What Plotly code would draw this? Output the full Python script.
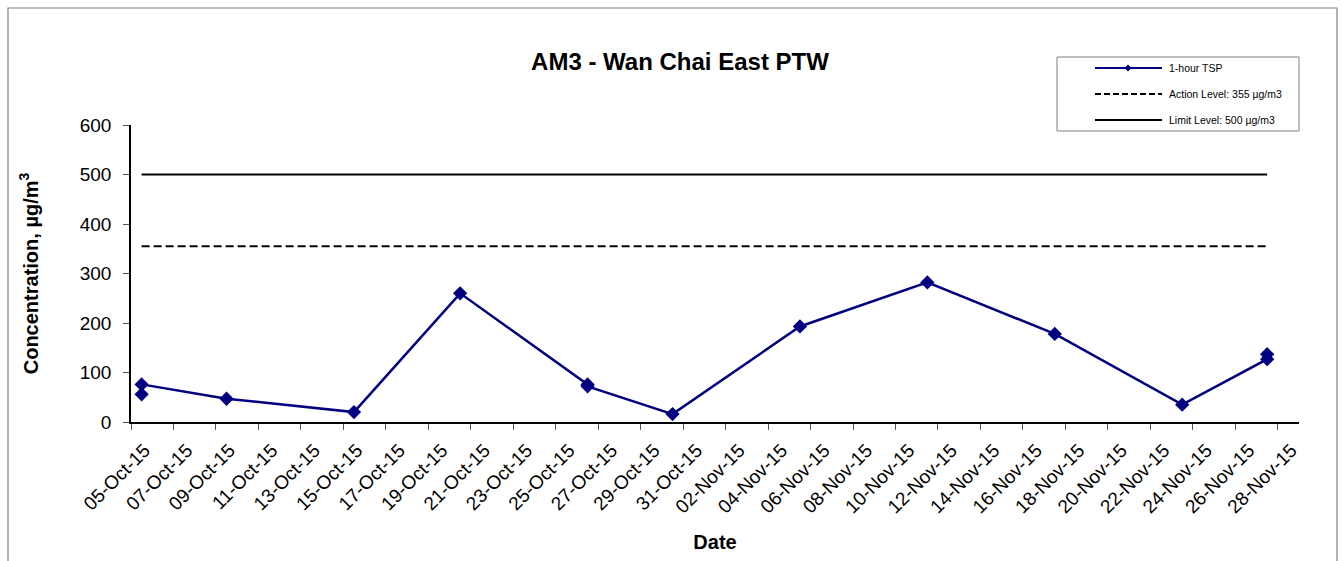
import pandas as pd
import plotly.graph_objects as go

# 1-hour TSP monitoring results, AM3 - Wan Chai East PTW
sample_dates = ["2015-10-05", "2015-10-05", "2015-10-09", "2015-10-15", "2015-10-20",
                "2015-10-26", "2015-10-26", "2015-10-30", "2015-11-05", "2015-11-11",
                "2015-11-17", "2015-11-23", "2015-11-27", "2015-11-27"]
tsp_values = [56, 76, 47, 20, 260, 76, 72, 16, 193, 282, 178, 35, 127, 137]

action_level = 355
limit_level = 500

axis_start = "2015-10-05"
axis_end = "2015-11-29"

# each day occupies a slot on the date axis; values sit in the middle of their day
half_day = pd.Timedelta(hours=12)
x_pts = pd.to_datetime(sample_dates) + half_day
x_lvl = [x_pts.min(), x_pts.max()]

W_FIG, H_FIG = 1342, 561
L, R, T, B = 131, 43, 125, 139
PW, PH = W_FIG - L - R, H_FIG - T - B


def px(x):
    return (x - L) / PW


def py(y):
    return (H_FIG - B - y) / PH


NAVY = "#000080"
FONT = "Arial, Liberation Sans, sans-serif"

fig = go.Figure()
fig.add_trace(go.Scatter(
    x=x_pts, y=tsp_values, mode="lines+markers", name="1-hour TSP",
    line=dict(color=NAVY, width=2.5),
    marker=dict(symbol="diamond", size=11, color=NAVY),
    showlegend=False,
))
fig.add_trace(go.Scatter(
    x=x_lvl, y=[action_level] * 2, mode="lines", name="Action Level: 355 µg/m3",
    line=dict(color="black", width=2, dash="8px,4px"), showlegend=False,
))
fig.add_trace(go.Scatter(
    x=x_lvl, y=[limit_level] * 2, mode="lines", name="Limit Level: 500 µg/m3",
    line=dict(color="black", width=2.2), showlegend=False,
))

shapes = []
annotations = []

# outer chart frame
shapes.append(dict(type="rect", xref="paper", yref="paper",
                   x0=px(8), x1=px(1337), y0=py(8), y1=py(575),
                   line=dict(color="#808080", width=1.2), layer="below"))

# legend box
shapes.append(dict(type="rect", xref="paper", yref="paper",
                   x0=px(1057), x1=px(1299), y0=py(57), y1=py(131),
                   line=dict(color="#808080", width=1), fillcolor="white"))

legend_rows = [
    ("1-hour TSP", 68, dict(color=NAVY, width=2), True),
    ("Action Level: 355 µg/m3", 94, dict(color="black", width=2, dash="6px,3px"), False),
    ("Limit Level: 500 µg/m3", 120, dict(color="black", width=2), False),
]
for text, yy, ln, with_marker in legend_rows:
    shapes.append(dict(type="line", xref="paper", yref="paper",
                       x0=px(1095), x1=px(1162), y0=py(yy), y1=py(yy), line=ln))
    if with_marker:
        cx, cy, r = 1128, yy, 3.5
        path = (f"M {px(cx - r)} {py(cy)} L {px(cx)} {py(cy - r)} "
                f"L {px(cx + r)} {py(cy)} L {px(cx)} {py(cy + r)} Z")
        shapes.append(dict(type="path", xref="paper", yref="paper", path=path,
                           fillcolor=NAVY, line=dict(color=NAVY, width=0)))
    annotations.append(dict(text=text, xref="paper", yref="paper",
                            x=px(1167), y=py(yy), xanchor="left", yanchor="middle",
                            showarrow=False, font=dict(family=FONT, size=10.5, color="black")))

fig.update_layout(
    width=W_FIG, height=H_FIG,
    margin=dict(l=L, r=R, t=T, b=B, pad=0),
    paper_bgcolor="white", plot_bgcolor="white",
    font=dict(family=FONT, color="black"),
    title=dict(text="<b>AM3 - Wan Chai East PTW</b>", xref="container", yref="container",
               x=680 / W_FIG, y=1 - 62 / H_FIG, xanchor="center", yanchor="middle",
               font=dict(family=FONT, size=24, color="black")),
    shapes=shapes,
    annotations=annotations,
    xaxis=dict(
        type="date", range=[axis_start, axis_end],
        tick0=pd.Timestamp(axis_start) + half_day, dtick=2 * 86400000,
        tickformat="%d-%b-%y", tickangle=-45, ticks="", ticklen=0,
        tickfont=dict(family=FONT, size=19, color="black"),
        ticklabelstandoff=8, ticklabelshift=3,
        minor=dict(ticks="outside", ticklen=6, tickwidth=1.2, tickcolor="#555555",
                   tick0=axis_start, dtick=2 * 86400000, showgrid=False),
        showline=True, linecolor="black", linewidth=1.5,
        showgrid=False, zeroline=False, automargin=False,
        title=dict(text="<b>Date</b>", standoff=19,
                   font=dict(family=FONT, size=20, color="black")),
    ),
    yaxis=dict(
        range=[0, 600], dtick=100, ticks="outside", ticklen=6, tickwidth=1.2,
        tickcolor="#555555",
        tickfont=dict(family=FONT, size=19, color="black"),
        ticklabelstandoff=8,
        showline=True, linecolor="black", linewidth=1.5,
        showgrid=False, zeroline=False, automargin=False,
        title=dict(text="<b>Concentration, µg/m<sup>3</sup></b>", standoff=36,
                   font=dict(family=FONT, size=20, color="black")),
    ),
)

fig.write_html("out.html")
